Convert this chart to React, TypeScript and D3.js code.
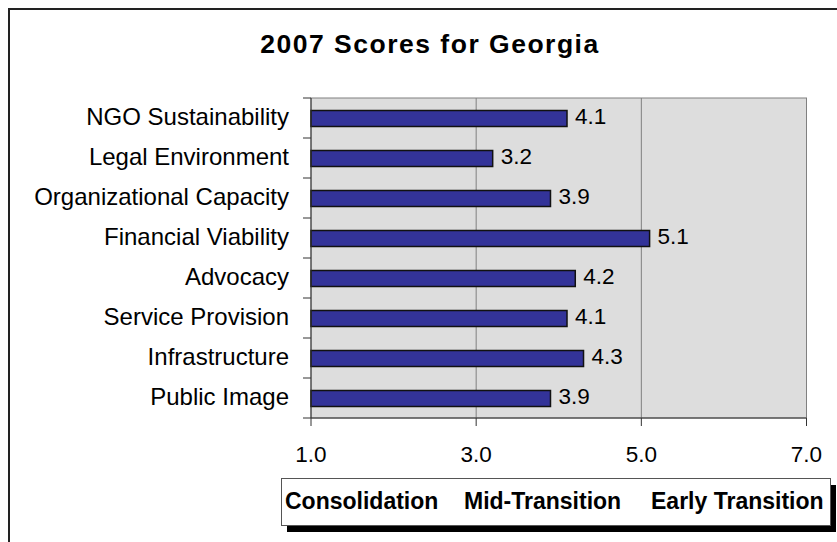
import React from "react";
import * as d3 from "d3";

const categories = [
  "NGO Sustainability",
  "Legal Environment",
  "Organizational Capacity",
  "Financial Viability",
  "Advocacy",
  "Service Provision",
  "Infrastructure",
  "Public Image",
];
const scores = [4.1, 3.2, 3.9, 5.1, 4.2, 4.1, 4.3, 3.9];
const xTicks = [1, 3, 5, 7];
const stages = ["Consolidation", "Mid-Transition", "Early Transition"];
const title = "2007 Scores for Georgia";

const W = 837;
const H = 542;
const FONT = "'Liberation Sans', Arial, Helvetica, sans-serif";

export default function App() {
  const x = d3.scaleLinear().domain([1, 7]).range([311, 806.5]);
  const y = d3
    .scaleBand<string>()
    .domain(categories)
    .range([98, 418])
    .paddingInner(0.6)
    .paddingOuter(0.3);
  const step = y.step();
  const top = 98;
  const bottom = 418;
  const left = x(1);
  const right = x(7);
  const boundaries = d3.range(categories.length + 1).map((i) => top + i * step);
  const legendX = [285, 464, 651];

  return (
    <div style={{ position: "absolute", left: 0, top: 0 }}>
      <svg width={W} height={H} style={{ display: "block", background: "#fff" }}>
        {/* outer chart frame */}
        <rect x={9} y={9} width={W + 20} height={H + 20} fill="none" stroke="#222" strokeWidth={2} />
        <text
          x={430}
          y={53}
          textAnchor="middle"
          fontFamily={FONT}
          fontWeight="bold"
          fontSize={26.5}
          letterSpacing={1.5}
          fill="#000"
        >
          {title}
        </text>

        {/* plot area */}
        <rect x={left} y={top} width={right - left} height={bottom - top} fill="#dddddd" stroke="#808080" strokeWidth={1} />
        {xTicks.slice(1, -1).map((t) => (
          <line key={t} x1={x(t)} x2={x(t)} y1={top} y2={bottom} stroke="#808080" strokeWidth={1} />
        ))}

        {/* bars */}
        {categories.map((c, i) => (
          <rect
            key={c}
            x={x(1)}
            y={(y(c) as number) + 0.5}
            width={x(scores[i]) - x(1)}
            height={y.bandwidth()}
            fill="#333399"
            stroke="#111"
            strokeWidth={1.5}
          />
        ))}
        {categories.map((c, i) => (
          <text
            key={c + "v"}
            x={x(scores[i]) + 8}
            y={(y(c) as number) + y.bandwidth() / 2 + 6}
            fontFamily={FONT}
            fontSize={22.5}
            fill="#000"
          >
            {scores[i].toFixed(1)}
          </text>
        ))}

        {/* axes */}
        <line x1={left} x2={left} y1={top} y2={bottom} stroke="#333" strokeWidth={1} />
        <line x1={left} x2={right} y1={bottom} y2={bottom} stroke="#333" strokeWidth={1} />
        {boundaries.map((b, i) => (
          <line key={i} x1={left - 8} x2={left} y1={b} y2={b} stroke="#333" strokeWidth={1} />
        ))}
        {xTicks.map((t) => (
          <g key={t}>
            <line x1={x(t)} x2={x(t)} y1={bottom} y2={bottom + 8} stroke="#333" strokeWidth={1} />
            <text x={x(t)} y={462} textAnchor="middle" fontFamily={FONT} fontSize={22.5} fill="#000">
              {t.toFixed(1)}
            </text>
          </g>
        ))}
        {categories.map((c) => (
          <text
            key={c + "l"}
            x={289}
            y={(y(c) as number) + y.bandwidth() / 2 + 7}
            textAnchor="end"
            fontFamily={FONT}
            fontSize={24}
            fill="#000"
          >
            {c}
          </text>
        ))}

        {/* stage legend */}
        <rect x={287} y={485} width={549} height={47} fill="#000" />
        <rect x={281.5} y={478.5} width={549} height={47} fill="#fff" stroke="#555" strokeWidth={1} />
        {stages.map((s, i) => (
          <text key={s} x={legendX[i]} y={509} fontFamily={FONT} fontWeight="bold" fontSize={23} fill="#000">
            {s}
          </text>
        ))}
      </svg>
    </div>
  );
}
